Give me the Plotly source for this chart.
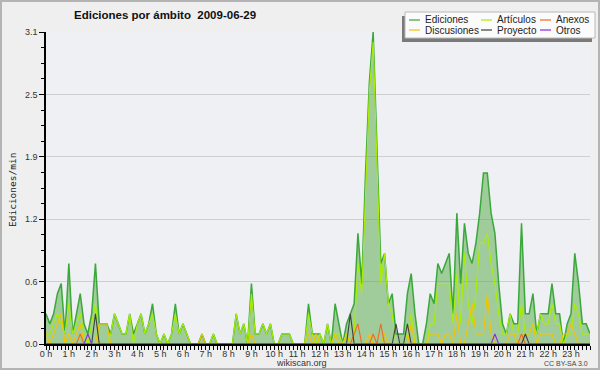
import plotly.graph_objects as go

# 10-minute slots (144 per day), values in edits/min
hours = [f"{h} h" for h in range(24)]
slots = list(range(144))

ediciones = [
    0.3, 0.2, 0.3, 0.5, 0.6, 0.1,
    0.8, 0.1, 0.3, 0.5, 0.2, 0.1,
    0.3, 0.8, 0.2, 0.2, 0.2, 0.1,
    0.3, 0.2, 0.1, 0.1, 0.3, 0.1,
    0.2, 0.3, 0.1, 0.2, 0.4, 0.1,
    0.0, 0.1, 0.0, 0.1, 0.4, 0.1,
    0.2, 0.1, 0.0, 0.0, 0.0, 0.1,
    0.0, 0.0, 0.1, 0.0, 0.0, 0.0,
    0.0, 0.0, 0.3, 0.1, 0.2, 0.0,
    0.6, 0.1, 0.1, 0.2, 0.1, 0.2,
    0.0, 0.0, 0.1, 0.1, 0.1, 0.0,
    0.0, 0.0, 0.0, 0.4, 0.1, 0.1,
    0.1, 0.0, 0.2, 0.0, 0.4, 0.2,
    0.0, 0.2, 0.3, 0.4, 1.1, 0.6,
    1.7, 2.6, 3.1, 1.9, 0.8, 0.9,
    0.4, 0.5, 0.1, 0.1, 0.1, 0.5,
    0.7, 0.3, 0.0, 0.0, 0.2, 0.5,
    0.4, 0.8, 0.7, 0.8, 0.9, 0.3,
    1.3, 0.6, 1.2, 0.9, 0.8, 1.0,
    1.3, 1.7, 1.7, 1.3, 1.1, 0.6,
    0.2, 0.1, 0.3, 0.2, 0.2, 1.2,
    0.3, 0.3, 0.5, 0.1, 0.3, 0.3,
    0.3, 0.6, 0.3, 0.3, 0.0, 0.2,
    0.3, 0.9, 0.6, 0.2, 0.2, 0.1,
]

articulos = [
    0.1, 0.1, 0.2, 0.3, 0.2, 0.1,
    0.4, 0.1, 0.2, 0.3, 0.1, 0.0,
    0.2, 0.4, 0.0, 0.0, 0.0, 0.1,
    0.3, 0.2, 0.1, 0.1, 0.3, 0.0,
    0.2, 0.3, 0.1, 0.2, 0.3, 0.1,
    0.0, 0.1, 0.0, 0.1, 0.3, 0.1,
    0.2, 0.1, 0.0, 0.0, 0.0, 0.0,
    0.0, 0.0, 0.1, 0.0, 0.0, 0.0,
    0.0, 0.0, 0.3, 0.1, 0.2, 0.0,
    0.5, 0.1, 0.1, 0.2, 0.1, 0.2,
    0.0, 0.0, 0.1, 0.1, 0.1, 0.0,
    0.0, 0.0, 0.0, 0.3, 0.1, 0.0,
    0.1, 0.0, 0.2, 0.0, 0.1, 0.1,
    0.0, 0.1, 0.0, 0.1, 0.8, 0.5,
    1.5, 2.5, 3.0, 1.8, 0.6, 0.9,
    0.4, 0.3, 0.0, 0.0, 0.0, 0.1,
    0.3, 0.0, 0.0, 0.0, 0.0, 0.2,
    0.2, 0.6, 0.6, 0.6, 0.6, 0.2,
    0.7, 0.2, 0.9, 0.4, 0.2, 0.5,
    1.0, 1.0, 1.1, 0.8, 0.6, 0.3,
    0.1, 0.1, 0.3, 0.1, 0.1, 0.4,
    0.1, 0.1, 0.2, 0.1, 0.3, 0.2,
    0.2, 0.4, 0.2, 0.2, 0.0, 0.1,
    0.1, 0.4, 0.3, 0.1, 0.1, 0.1,
]

discusiones = [
    0.1, 0.0, 0.1, 0.2, 0.3, 0.0,
    0.1, 0.0, 0.1, 0.2, 0.0, 0.0,
    0.0, 0.0, 0.2, 0.2, 0.2, 0.0,
    0.0, 0.0, 0.0, 0.0, 0.0, 0.0,
    0.0, 0.0, 0.0, 0.0, 0.0, 0.0,
    0.0, 0.0, 0.0, 0.0, 0.0, 0.0,
    0.0, 0.0, 0.0, 0.0, 0.0, 0.1,
    0.0, 0.0, 0.0, 0.0, 0.0, 0.0,
    0.0, 0.0, 0.0, 0.0, 0.0, 0.0,
    0.1, 0.0, 0.0, 0.0, 0.0, 0.0,
    0.0, 0.0, 0.0, 0.0, 0.0, 0.0,
    0.0, 0.0, 0.0, 0.1, 0.0, 0.1,
    0.0, 0.0, 0.0, 0.0, 0.1, 0.0,
    0.0, 0.1, 0.0, 0.0, 0.0, 0.0,
    0.0, 0.1, 0.0, 0.0, 0.0, 0.1,
    0.0, 0.0, 0.0, 0.0, 0.0, 0.0,
    0.2, 0.0, 0.0, 0.0, 0.0, 0.1,
    0.1, 0.1, 0.0, 0.1, 0.1, 0.0,
    0.3, 0.0, 0.0, 0.2, 0.4, 0.1,
    0.1, 0.1, 0.5, 0.1, 0.0, 0.0,
    0.0, 0.0, 0.1, 0.1, 0.0, 0.1,
    0.1, 0.1, 0.2, 0.0, 0.1, 0.1,
    0.1, 0.1, 0.0, 0.0, 0.1, 0.1,
    0.2, 0.1, 0.0, 0.0, 0.0, 0.0,
]

anexos = [
    0.0, 0.0, 0.0, 0.0, 0.0, 0.0,
    0.0, 0.0, 0.0, 0.1, 0.0, 0.0,
    0.0, 0.0, 0.0, 0.0, 0.0, 0.0,
    0.0, 0.0, 0.0, 0.0, 0.0, 0.0,
    0.0, 0.0, 0.0, 0.0, 0.0, 0.0,
    0.0, 0.0, 0.0, 0.0, 0.0, 0.0,
    0.0, 0.0, 0.0, 0.0, 0.0, 0.0,
    0.0, 0.0, 0.0, 0.0, 0.0, 0.0,
    0.0, 0.0, 0.0, 0.0, 0.0, 0.0,
    0.0, 0.0, 0.0, 0.0, 0.0, 0.0,
    0.0, 0.0, 0.0, 0.0, 0.0, 0.0,
    0.0, 0.0, 0.0, 0.0, 0.0, 0.0,
    0.0, 0.0, 0.0, 0.0, 0.0, 0.0,
    0.0, 0.0, 0.0, 0.1, 0.2, 0.0,
    0.0, 0.0, 0.1, 0.0, 0.2, 0.0,
    0.0, 0.0, 0.0, 0.0, 0.0, 0.0,
    0.0, 0.0, 0.0, 0.0, 0.0, 0.0,
    0.0, 0.0, 0.0, 0.0, 0.0, 0.0,
    0.0, 0.0, 0.0, 0.0, 0.0, 0.0,
    0.0, 0.0, 0.0, 0.0, 0.0, 0.0,
    0.0, 0.0, 0.0, 0.0, 0.0, 0.1,
    0.0, 0.0, 0.0, 0.0, 0.0, 0.0,
    0.0, 0.0, 0.0, 0.0, 0.0, 0.0,
    0.0, 0.0, 0.0, 0.0, 0.0, 0.0,
]

proyecto = [
    0.0, 0.0, 0.0, 0.0, 0.0, 0.0,
    0.0, 0.0, 0.0, 0.0, 0.0, 0.0,
    0.0, 0.3, 0.0, 0.0, 0.0, 0.0,
    0.0, 0.0, 0.0, 0.0, 0.0, 0.0,
    0.0, 0.0, 0.0, 0.0, 0.0, 0.0,
    0.0, 0.0, 0.0, 0.0, 0.0, 0.0,
    0.0, 0.0, 0.0, 0.0, 0.0, 0.0,
    0.0, 0.0, 0.0, 0.0, 0.0, 0.0,
    0.0, 0.0, 0.0, 0.0, 0.0, 0.0,
    0.0, 0.0, 0.0, 0.0, 0.0, 0.0,
    0.0, 0.0, 0.0, 0.0, 0.0, 0.0,
    0.0, 0.0, 0.0, 0.0, 0.0, 0.0,
    0.0, 0.0, 0.0, 0.0, 0.0, 0.0,
    0.0, 0.0, 0.3, 0.0, 0.0, 0.0,
    0.0, 0.0, 0.0, 0.0, 0.0, 0.0,
    0.0, 0.0, 0.2, 0.0, 0.0, 0.2,
    0.0, 0.0, 0.0, 0.0, 0.0, 0.0,
    0.0, 0.0, 0.0, 0.0, 0.0, 0.0,
    0.0, 0.0, 0.0, 0.0, 0.0, 0.0,
    0.0, 0.0, 0.0, 0.0, 0.0, 0.0,
    0.0, 0.0, 0.0, 0.0, 0.0, 0.0,
    0.1, 0.0, 0.0, 0.0, 0.0, 0.0,
    0.0, 0.0, 0.0, 0.0, 0.0, 0.0,
    0.0, 0.0, 0.0, 0.0, 0.0, 0.0,
]

otros = [
    0.0, 0.0, 0.0, 0.0, 0.0, 0.0,
    0.0, 0.0, 0.0, 0.0, 0.0, 0.1,
    0.0, 0.0, 0.0, 0.0, 0.0, 0.0,
    0.0, 0.0, 0.0, 0.0, 0.0, 0.0,
    0.0, 0.0, 0.0, 0.0, 0.0, 0.0,
    0.0, 0.0, 0.0, 0.0, 0.0, 0.0,
    0.0, 0.0, 0.0, 0.0, 0.0, 0.0,
    0.0, 0.0, 0.0, 0.0, 0.0, 0.0,
    0.0, 0.0, 0.0, 0.0, 0.0, 0.0,
    0.0, 0.0, 0.0, 0.0, 0.0, 0.0,
    0.0, 0.0, 0.0, 0.0, 0.0, 0.0,
    0.0, 0.0, 0.0, 0.0, 0.0, 0.0,
    0.0, 0.0, 0.0, 0.0, 0.0, 0.0,
    0.0, 0.0, 0.0, 0.0, 0.0, 0.0,
    0.0, 0.0, 0.0, 0.0, 0.0, 0.0,
    0.0, 0.0, 0.0, 0.0, 0.0, 0.0,
    0.0, 0.0, 0.0, 0.0, 0.0, 0.0,
    0.0, 0.0, 0.0, 0.0, 0.0, 0.0,
    0.0, 0.0, 0.0, 0.0, 0.0, 0.0,
    0.0, 0.0, 0.0, 0.0, 0.1, 0.0,
    0.0, 0.0, 0.0, 0.0, 0.0, 0.0,
    0.0, 0.0, 0.0, 0.0, 0.0, 0.0,
    0.0, 0.0, 0.0, 0.0, 0.0, 0.0,
    0.0, 0.0, 0.0, 0.0, 0.0, 0.0,
]

y_tickvals = [0, 0.62, 1.24, 1.86, 2.48, 3.1]
y_ticktext = ["0.0", "0.6", "1.2", "1.9", "2.5", "3.1"]

series = [
    ("Ediciones", ediciones, "#3aa83a"),
    ("Artículos", articulos, "#aaee00"),
    ("Discusiones", discusiones, "#f5c400"),
    ("Anexos", anexos, "#f26a21"),
    ("Proyecto", proyecto, "#404040"),
    ("Otros", otros, "#8a2be2"),
]

FONT = "Liberation Sans, Arial, sans-serif"

fig = go.Figure()
for name, vals, col in series:
    kw = {}
    if name == "Ediciones":
        kw = dict(fill="tozeroy", fillcolor="rgba(82,168,68,0.5)")
    fig.add_trace(go.Scatter(
        x=slots, y=vals, mode="lines", name=name,
        line=dict(color=col, width=1.5 if name == "Ediciones" else 1.1),
        showlegend=False, hoverinfo="skip", **kw))

# pixel helpers for paper coordinates (plot area 46..590 x 32..344)
L, R, T, B = 46, 590, 32, 344
W, H = R - L, B - T
def px(x):
    return (x - L) / W
def py(y):
    return (B - y) / H

shapes = []
# outer frame
shapes.append(dict(type="rect", xref="paper", yref="paper",
                   x0=px(1), x1=px(599), y0=py(1), y1=py(369),
                   line=dict(color="#b4b4b4", width=2), fillcolor="rgba(0,0,0,0)", layer="above"))
# legend shadow + box
shapes.append(dict(type="rect", xref="paper", yref="paper",
                   x0=px(402), x1=px(592), y0=py(16), y1=py(42),
                   line=dict(width=0), fillcolor="#7a7a7a", layer="above"))
shapes.append(dict(type="rect", xref="paper", yref="paper",
                   x0=px(405), x1=px(595), y0=py(12), y1=py(38),
                   line=dict(color="#b8b8b8", width=1), fillcolor="#fbfbfb", layer="above"))

annotations = []
legend_pos = [
    ("Ediciones", 409, 20), ("Artículos", 481, 20), ("Anexos", 540, 20),
    ("Discusiones", 409, 30), ("Proyecto", 481, 30), ("Otros", 540, 30),
]
colmap = {n: c for n, _, c in series}
for name, lx, ly in legend_pos:
    shapes.append(dict(type="line", xref="paper", yref="paper",
                       x0=px(lx), x1=px(lx + 11), y0=py(ly), y1=py(ly),
                       line=dict(color=colmap[name], width=1.2), layer="above"))
    annotations.append(dict(xref="paper", yref="paper", x=px(lx + 14), y=py(ly),
                            text=name, showarrow=False, xanchor="left", yanchor="middle",
                            font=dict(family=FONT, size=10, color="#222")))

annotations += [
    dict(xref="paper", yref="paper", x=px(165), y=py(15), text="<b>Ediciones por ámbito  2009-06-29</b>",
         showarrow=False, xanchor="center", yanchor="middle",
         font=dict(family=FONT, size=11.5, color="#111")),
    dict(xref="paper", yref="paper", x=px(301), y=py(363), text="wikiscan.org",
         showarrow=False, xanchor="center", yanchor="middle",
         font=dict(family=FONT, size=9, color="#333")),
    dict(xref="paper", yref="paper", x=px(590), y=py(363), text="CC BY-SA 3.0",
         showarrow=False, xanchor="right", yanchor="middle",
         font=dict(family=FONT, size=7, color="#444")),
    dict(xref="paper", yref="paper", x=px(12), y=py(190), text="Ediciones/min",
         showarrow=False, xanchor="center", yanchor="middle", textangle=-90,
         font=dict(family="DejaVu Sans Mono, monospace", size=9.5, color="#222")),
]

fig.update_layout(
    width=600, height=370,
    margin=dict(l=L, r=600 - R, t=T, b=370 - B),
    paper_bgcolor="#efefef", plot_bgcolor="#eef0f3",
    shapes=shapes, annotations=annotations,
    showlegend=False,
    font=dict(family=FONT, size=9, color="#333"),
)
fig.update_xaxes(
    range=[0, 143], tickmode="array",
    tickvals=[h * 6 for h in range(24)], ticktext=hours,
    ticks="outside", ticklen=4, tickcolor="#000", tickwidth=1,
    minor=dict(dtick=1, tick0=0, ticks="outside", ticklen=4, tickcolor="#000", tickwidth=1),
    showgrid=False, zeroline=False,
    showline=True, linecolor="#000", linewidth=1.5,
    tickfont=dict(family=FONT, size=9, color="#333"),
    ticklabelstandoff=-4,
)
fig.update_yaxes(
    range=[0, 3.1], tickmode="array", tickvals=y_tickvals, ticktext=y_ticktext,
    ticks="outside", ticklen=5, tickcolor="#000",
    minor=dict(dtick=0.155, tick0=0, ticks="outside", ticklen=3, tickcolor="#000", showgrid=False),
    showgrid=True, gridcolor="#cfcfcf", gridwidth=1,
    zeroline=False, showline=True, linecolor="#000", linewidth=1.5,
    tickfont=dict(family=FONT, size=9, color="#333"),
)

fig.write_html("out.html", config={"displayModeBar": False},
               post_script="document.body.style.margin='0';document.body.style.overflow='hidden';")
